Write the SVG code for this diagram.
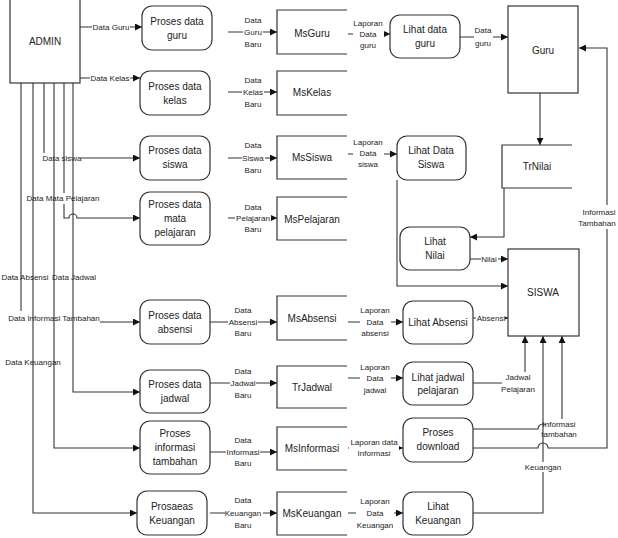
<svg xmlns="http://www.w3.org/2000/svg" width="618" height="538" viewBox="0 0 618 538">
<style>
.box{fill:#fff;stroke:#333;stroke-width:1.2}
.st{fill:none;stroke:#333;stroke-width:1.2}
.c{fill:none;stroke:#333;stroke-width:1.1}
.bg{fill:#fff}
text{font-family:"Liberation Sans",Arial,sans-serif;font-size:10px;fill:#222;text-anchor:middle;dominant-baseline:central}
.s{font-size:8px}
</style>
<defs>
<marker id="a" viewBox="0 0 10 10" refX="10" refY="5" markerWidth="9" markerHeight="7" markerUnits="userSpaceOnUse" orient="auto"><path d="M0,0 L10,5 L0,10 z" fill="#111"/></marker>
</defs>

<g id="connectors">
<!-- ADMIN outgoing -->
<path class="c" d="M80,27 H142" marker-end="url(#a)"/>
<path class="c" d="M80,78 H140" marker-end="url(#a)"/>
<path class="c" d="M44,83 V153"/>
<path class="c" d="M81,158 H140" marker-end="url(#a)"/>
<path class="c" d="M64,83 V193"/>
<path class="c" d="M64,204 V218 H69 A4,4 0 0 1 77,218 H140" marker-end="url(#a)"/>
<path class="c" d="M21,83 V311"/>
<path class="c" d="M100,322 H140" marker-end="url(#a)"/>
<path class="c" d="M73,83 V392 H140" marker-end="url(#a)"/>
<path class="c" d="M54,83 V448 H140" marker-end="url(#a)"/>
<path class="c" d="M33,83 V513 H137" marker-end="url(#a)"/>
<!-- process to store -->
<path class="c" d="M228,32 H277" marker-end="url(#a)"/>
<path class="c" d="M228,92 H277" marker-end="url(#a)"/>
<path class="c" d="M228,158 H277" marker-end="url(#a)"/>
<path class="c" d="M228,218 H277" marker-end="url(#a)"/>
<path class="c" d="M210,322 H277" marker-end="url(#a)"/>
<path class="c" d="M210,383 H277" marker-end="url(#a)"/>
<path class="c" d="M210,452 H277" marker-end="url(#a)"/>
<path class="c" d="M210,513 H277" marker-end="url(#a)"/>
<!-- store to view -->
<path class="c" d="M348,34 H390" marker-end="url(#a)"/>
<path class="c" d="M348,154 H397" marker-end="url(#a)"/>
<path class="c" d="M348,322 H403" marker-end="url(#a)"/>
<path class="c" d="M348,378 H403" marker-end="url(#a)"/>
<path class="c" d="M348,448 H403" marker-end="url(#a)"/>
<path class="c" d="M348,513 H403" marker-end="url(#a)"/>
<!-- right side -->
<path class="c" d="M460,37 H508" marker-end="url(#a)"/>
<path class="c" d="M540,93 V145" marker-end="url(#a)"/>
<path class="c" d="M504,188 V237 H470" marker-end="url(#a)"/>
<path class="c" d="M470,259 H508" marker-end="url(#a)"/>
<path class="c" d="M397,180 V286 H508" marker-end="url(#a)"/>
<path class="c" d="M473,318 H508" marker-end="url(#a)"/>
<path class="c" d="M473,383 H525 V336" marker-end="url(#a)"/>
<path class="c" d="M473,429 H538 A5,5 0 0 1 548,429 H562 V336" marker-end="url(#a)"/>
<path class="c" d="M473,448 H538 A5,5 0 0 1 548,448 H607 V48 H579" marker-end="url(#a)"/>
<path class="c" d="M473,513 H543 V336" marker-end="url(#a)"/>

<!-- label backgrounds -->
<rect class="bg" x="92" y="22" width="38" height="10"/>
<rect class="bg" x="90" y="73" width="40" height="10"/>
<rect class="bg" x="243" y="27" width="20" height="10"/>
<rect class="bg" x="353" y="29" width="31" height="10"/>
<rect class="bg" x="242" y="87" width="22" height="10"/>
<rect class="bg" x="242" y="153" width="23" height="10"/>
<rect class="bg" x="353" y="149" width="31" height="10"/>
<rect class="bg" x="235" y="213" width="36" height="10"/>
<rect class="bg" x="228" y="317" width="30" height="10"/>
<rect class="bg" x="360" y="317" width="31" height="10"/>
<rect class="bg" x="230" y="378" width="26" height="10"/>
<rect class="bg" x="360" y="373" width="31" height="10"/>
<rect class="bg" x="226" y="447" width="34" height="10"/>
<rect class="bg" x="349" y="443" width="50" height="10"/>
<rect class="bg" x="225" y="508" width="38" height="10"/>
<rect class="bg" x="356" y="508" width="38" height="10"/>
<rect class="bg" x="474" y="26" width="19" height="22"/>
<rect class="bg" x="481" y="254" width="17" height="10"/>
<rect class="bg" x="476" y="313" width="29" height="10"/>
<rect class="bg" x="502" y="372" width="34" height="22"/>
<rect class="bg" x="546" y="419" width="31" height="20"/>
<rect class="bg" x="524" y="462" width="38" height="10"/>
<rect class="bg" x="580" y="205" width="38" height="24"/>

<!-- labels -->
<text class="s" x="111" y="27">Data Guru</text>
<text class="s" x="110" y="78">Data Kelas</text>
<text class="s" x="62" y="158">Data siswa</text>
<text class="s" x="63" y="198">Data Mata Pelajaran</text>
<text class="s" x="25" y="277">Data Absensi</text>
<text class="s" x="74" y="277">Data Jadwal</text>
<text class="s" x="54" y="318">Data Informasi Tambahan</text>
<text class="s" x="33" y="362">Data Keuangan</text>

<text class="s" x="253" y="20">Data</text><text class="s" x="253" y="32">Guru</text><text class="s" x="253" y="44">Baru</text>
<text class="s" x="368" y="23">Laporan</text><text class="s" x="368" y="34">Data</text><text class="s" x="368" y="45">guru</text>
<text class="s" x="253" y="80">Data</text><text class="s" x="253" y="92">Kelas</text><text class="s" x="253" y="104">Baru</text>
<text class="s" x="253" y="145">Data</text><text class="s" x="253" y="158">Siswa</text><text class="s" x="253" y="170">Baru</text>
<text class="s" x="368" y="142">Laporan</text><text class="s" x="368" y="153">Data</text><text class="s" x="368" y="164">siswa</text>
<text class="s" x="253" y="207">Data</text><text class="s" x="253" y="218">Pelajaran</text><text class="s" x="253" y="229">Baru</text>
<text class="s" x="243" y="310">Data</text><text class="s" x="243" y="322">Absensi</text><text class="s" x="243" y="333">Baru</text>
<text class="s" x="375" y="310">Laporan</text><text class="s" x="375" y="322">Data</text><text class="s" x="375" y="333">absensi</text>
<text class="s" x="243" y="371">Data</text><text class="s" x="243" y="383">Jadwal</text><text class="s" x="243" y="395">Baru</text>
<text class="s" x="375" y="367">Laporan</text><text class="s" x="375" y="378">Data</text><text class="s" x="375" y="390">jadwal</text>
<text class="s" x="243" y="440">Data</text><text class="s" x="243" y="452">Informasi</text><text class="s" x="243" y="463">Baru</text>
<text class="s" x="374" y="442">Laporan data</text><text class="s" x="374" y="453">Informasi</text>
<text class="s" x="243" y="500">Data</text><text class="s" x="243" y="513">Keuangan</text><text class="s" x="243" y="525">Baru</text>
<text class="s" x="375" y="501">Laporan</text><text class="s" x="375" y="513">Data</text><text class="s" x="375" y="525">Keuangan</text>
<text class="s" x="483" y="30">Data</text><text class="s" x="483" y="43">guru</text>
<text class="s" x="489" y="259">Nilai</text>
<text class="s" x="491" y="318">Absensi</text>
<text class="s" x="518" y="377">Jadwal</text><text class="s" x="518" y="389">Pelajaran</text>
<text class="s" x="559" y="424">Informasi</text><text class="s" x="559" y="434">tambahan</text>
<text class="s" x="543" y="467">Keuangan</text>
<text class="s" x="599" y="212">Informasi</text><text class="s" x="597" y="223">Tambahan</text>
</g>

<g id="admin"><rect class="box" x="10" y="-1" width="70" height="84"/><text x="45" y="41">ADMIN</text></g>

<g id="p-guru"><rect class="box" x="142" y="6" width="70" height="44" rx="10"/><text x="177" y="21">Proses data</text><text x="177" y="35">guru</text></g>
<g id="p-kelas"><rect class="box" x="140" y="71" width="70" height="44" rx="10"/><text x="175" y="86">Proses data</text><text x="175" y="100">kelas</text></g>
<g id="p-siswa"><rect class="box" x="140" y="136" width="70" height="44" rx="10"/><text x="175" y="150">Proses data</text><text x="175" y="164">siswa</text></g>
<g id="p-pelajaran"><rect class="box" x="140" y="192" width="70" height="53" rx="10"/><text x="175" y="204">Proses data</text><text x="175" y="218">mata</text><text x="175" y="232">pelajaran</text></g>
<g id="p-absensi"><rect class="box" x="140" y="300" width="70" height="44" rx="10"/><text x="175" y="315">Proses data</text><text x="175" y="329">absensi</text></g>
<g id="p-jadwal"><rect class="box" x="140" y="370" width="70" height="43" rx="10"/><text x="175" y="384">Proses data</text><text x="175" y="398">jadwal</text></g>
<g id="p-informasi"><rect class="box" x="140" y="421" width="70" height="53" rx="10"/><text x="175" y="433">Proses</text><text x="175" y="447">informasi</text><text x="175" y="461">tambahan</text></g>
<g id="p-keuangan"><rect class="box" x="137" y="491" width="70" height="44" rx="10"/><text x="172" y="506">Prosaeas</text><text x="172" y="520">Keuangan</text></g>

<g id="s-msguru"><path class="st" d="M347,10 H277 V54 H347"/><text x="312" y="33">MsGuru</text></g>
<g id="s-mskelas"><path class="st" d="M347,71 H277 V115 H347"/><text x="312" y="92">MsKelas</text></g>
<g id="s-mssiswa"><path class="st" d="M347,136 H277 V179 H347"/><text x="312" y="157">MsSiswa</text></g>
<g id="s-mspelajaran"><path class="st" d="M347,197 H277 V240 H347"/><text x="312" y="219">MsPelajaran</text></g>
<g id="s-msabsensi"><path class="st" d="M347,296 H277 V340 H347"/><text x="312" y="318">MsAbsensi</text></g>
<g id="s-trjadwal"><path class="st" d="M347,366 H277 V408 H347"/><text x="312" y="387">TrJadwal</text></g>
<g id="s-msinformasi"><path class="st" d="M347,427 H277 V470 H347"/><text x="312" y="448">MsInformasi</text></g>
<g id="s-mskeuangan"><path class="st" d="M347,492 H277 V535 H347"/><text x="312" y="513">MsKeuangan</text></g>

<g id="v-guru"><rect class="box" x="390" y="15" width="70" height="43" rx="10"/><text x="425" y="29">Lihat data</text><text x="425" y="43">guru</text></g>
<g id="v-siswa"><rect class="box" x="397" y="136" width="69" height="44" rx="10"/><text x="431" y="150">Lihat Data</text><text x="431" y="164">Siswa</text></g>
<g id="v-nilai"><rect class="box" x="400" y="227" width="70" height="43" rx="10"/><text x="435" y="241">Lihat</text><text x="435" y="255">Nilai</text></g>
<g id="v-absensi"><rect class="box" x="403" y="301" width="70" height="43" rx="10"/><text x="438" y="322">Lihat Absensi</text></g>
<g id="v-jadwal"><rect class="box" x="403" y="362" width="70" height="43" rx="10"/><text x="438" y="377">Lihat jadwal</text><text x="438" y="390">pelajaran</text></g>
<g id="p-download"><rect class="box" x="403" y="418" width="70" height="44" rx="10"/><text x="438" y="432">Proses</text><text x="438" y="446">download</text></g>
<g id="v-keuangan"><rect class="box" x="403" y="492" width="70" height="43" rx="10"/><text x="438" y="506">Lihat</text><text x="438" y="520">Keuangan</text></g>

<g id="guru"><rect class="box" x="508" y="6" width="70" height="87"/><text x="543" y="50">Guru</text></g>
<g id="trnilai"><path class="st" d="M572,145 H502 V188 H572"/><text x="537" y="166">TrNilai</text></g>
<g id="siswa"><rect class="box" x="508" y="249" width="71" height="87"/><text x="543" y="292">SISWA</text></g>
</svg>
